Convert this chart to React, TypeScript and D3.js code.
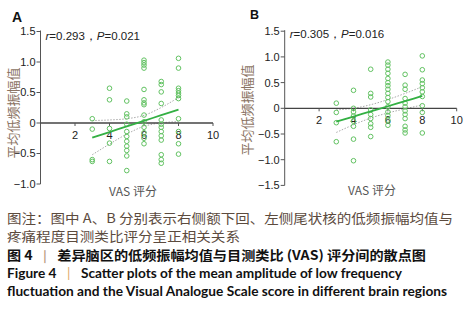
import React from "react";
import * as d3 from "d3";

// ---------- data ----------
const vasLevels = [3, 4, 5, 6, 7, 8];

// Panel A (right inferior frontal gyrus): ALFF values at each VAS level
const alffA: number[][] = [
  [0.07, -0.1, -0.6, -0.63],
  [0.57, 0.38, -0.09, -0.33, -0.63],
  [0.36, 0.15, 0.1, -0.02, -0.14, -0.22, -0.3, -0.38, -0.45, -0.54, -0.78],
  [1.03, 0.99, 0.95, 0.9, 0.55, 0.38, 0.33, 0.3, 0.13, 0.02, -0.07, -0.16, -0.25, -0.34],
  [0.68, 0.63, 0.51, 0.32, 0.05, -0.02, -0.07, -0.14, -0.21, -0.28, -0.52, -0.6, -0.66],
  [1.06, 0.9, 0.57, 0.53, 0.49, 0.45, 0.4, 0.07, -0.14, -0.34, -0.51],
];
const fitA = [-0.24, -0.148, -0.056, 0.036, 0.128, 0.22];
const upperA = [0.04, 0.05, 0.07, 0.126, 0.254, 0.418];
const lowerA = [-0.52, -0.346, -0.182, -0.054, 0.002, 0.022];

// Panel B (left caudate nucleus)
const alffB: number[][] = [
  [0.1, -0.08, -0.28, -0.65],
  [0.35, 0.0, -0.07, -0.15, -0.25, -0.35, -0.6, -1.02],
  [0.76, 0.29, 0.22, -0.03, -0.12, -0.2, -0.3, -0.37, -0.55],
  [0.9, 0.84, 0.76, 0.68, 0.58, 0.5, 0.44, 0.37, 0.29, 0.21, 0.13, 0.03, -0.07, -0.14, -0.23, -0.33],
  [0.66, 0.45, 0.37, 0.19, 0.1, 0.03, -0.05, -0.12, -0.2, -0.35, -0.42, -0.48],
  [1.02, 0.75, 0.55, 0.48, 0.4, 0.32, 0.23, 0.05, -0.08, -0.48],
];
const fitB = [-0.26, -0.16, -0.06, 0.04, 0.14, 0.24];
const upperB = [-0.03, 0.0, 0.07, 0.17, 0.29, 0.42];
const lowerB = [-0.47, -0.32, -0.19, -0.09, -0.01, 0.065];

const xTicks = [2, 4, 6, 8, 10];
const yTicksA = [1.5, 1.0, 0.5, 0, -0.5, -1.0];
const yTicksB = [1.5, 1.0, 0.5, 0, -0.5, -1.0, -1.5];

const statsA = { r: "0.293", p: "0.021" };
const statsB = { r: "0.305", p: "0.016" };

const xLabel = "VAS 评分";
const yLabel = "平均低频振幅值";

const caption1 = "图注：图中 A、B 分别表示右侧额下回、左侧尾状核的低频振幅均值与";
const caption2 = "疼痛程度目测类比评分呈正相关关系";
const caption3a = "图 4";
const caption3b = "差异脑区的低频振幅均值与目测类比 (VAS) 评分间的散点图";
const caption4a = "Figure 4";
const caption4b = "Scatter plots of the mean amplitude of low frequency";
const caption5 = "fluctuation and the Visual Analogue Scale score in different brain regions";

const fmtTick = (v: number) =>
  v === 0 ? "0" : (v < 0 ? "\u2212" : "") + Math.abs(v).toFixed(1);

const tickFont = "'Liberation Sans', Arial, sans-serif";
const cjkFont = "'Noto Sans CJK SC', sans-serif";
const latinFont = "Lato, 'Open Sans', sans-serif";
const NB = "\u00A0";

type PanelProps = {
  letter: string;
  letterX: number;
  letterY: number;
  letterSize: number;
  x0: number;
  x1: number;
  yTop: number;
  yBottom: number;
  yDomain: [number, number];
  yTicks: number[];
  values: number[][];
  fit: number[];
  upper: number[];
  lower: number[];
  stats: { r: string; p: string };
  statY: number;
  yLabelX: number;
  yLabelY: number;
  xLabelX: number;
  xLabelY: number;
};

function Panel(p: PanelProps) {
  const x = d3.scaleLinear().domain([0, 10]).range([p.x0, p.x1]);
  const y = d3.scaleLinear().domain(p.yDomain).range([p.yBottom, p.yTop]);
  const y0 = y(0);
  const line = d3
    .line<number>()
    .x((_, i) => x(vasLevels[i]))
    .y((d) => y(d))
    .curve(d3.curveMonotoneX);
  const pts: { vx: number; vy: number }[] = [];
  p.values.forEach((col, i) => col.forEach((v) => pts.push({ vx: vasLevels[i], vy: v })));
  return (
    <g>
      <text x={p.letterX} y={p.letterY} fontFamily={tickFont} fontWeight={700} fontSize={p.letterSize} fill="#111">
        {p.letter}
      </text>
      {/* y axis */}
      <line x1={x(0)} x2={x(0)} y1={p.yTop - 1} y2={p.yBottom} stroke="#555" strokeWidth={1} />
      {p.yTicks.map((t) => (
        <g key={t}>
          <line x1={x(0) - 4} x2={x(0)} y1={y(t)} y2={y(t)} stroke="#555" strokeWidth={1} />
          <text x={x(0) - 5} y={y(t)} dy="0.36em" textAnchor="end" fontFamily={tickFont} fontSize={11} fill="#222">
            {fmtTick(t)}
          </text>
        </g>
      ))}
      {/* confidence band */}
      <path d={line(p.upper) || ""} fill="none" stroke="#aaa" strokeWidth={1} strokeDasharray="1.5,1.5" />
      <path d={line(p.lower) || ""} fill="none" stroke="#aaa" strokeWidth={1} strokeDasharray="1.5,1.5" />
      {/* x axis at zero */}
      <line x1={x(0)} x2={x(10)} y1={y0} y2={y0} stroke="#444" strokeWidth={1.3} />
      {xTicks.map((t) => (
        <g key={t}>
          <line x1={x(t)} x2={x(t)} y1={y0} y2={y0 + 3} stroke="#555" strokeWidth={1} />
          <text x={x(t)} y={y0 + 16} textAnchor="middle" fontFamily={tickFont} fontSize={11} fill="#222">
            {t}
          </text>
        </g>
      ))}
      {/* points */}
      {pts.map((d, i) => (
        <circle key={i} cx={x(d.vx)} cy={y(d.vy)} r={2.3} fill="none" stroke="#62c262" strokeWidth={1} />
      ))}
      {/* fit line */}
      <path d={line(p.fit) || ""} fill="none" stroke="#33b043" strokeWidth={1.8} />
      {/* stats */}
      <text x={x(0) + 5} y={p.statY} fontFamily={tickFont} fontSize={11.5} fill="#222">
        <tspan fontStyle="italic">r</tspan>
        <tspan>{`=${p.stats.r}，`}</tspan>
        <tspan fontStyle="italic">P</tspan>
        <tspan>{`=${p.stats.p}`}</tspan>
      </text>
      {/* axis titles */}
      <text x={p.xLabelX} y={p.xLabelY} textAnchor="middle" fontFamily={cjkFont} fontSize={12} fill="#555">
        {xLabel}
      </text>
      <text
        transform={`translate(${p.yLabelX},${p.yLabelY}) rotate(-90)`}
        textAnchor="middle"
        dy="0.35em"
        fontFamily={cjkFont}
        fontSize={13}
        fill="#8a7262"
      >
        {yLabel}
      </text>
    </g>
  );
}

export default function App() {
  return (
    <svg
      width={467}
      height={310}
      style={{ position: "absolute", left: 0, top: 0, background: "#fff" }}
    >
      <rect width={467} height={310} fill="#fff" />
      <Panel
        letter="A"
        letterX={12}
        letterY={22}
        letterSize={14}
        x0={40.5}
        x1={213}
        yTop={31.5}
        yBottom={184}
        yDomain={[-1, 1.5]}
        yTicks={yTicksA}
        values={alffA}
        fit={fitA}
        upper={upperA}
        lower={lowerA}
        stats={statsA}
        statY={40}
        yLabelX={13}
        yLabelY={113}
        xLabelX={133}
        xLabelY={196}
      />
      <Panel
        letter="B"
        letterX={250}
        letterY={18.5}
        letterSize={12.5}
        x0={284.7}
        x1={456.7}
        yTop={31.2}
        yBottom={185.4}
        yDomain={[-1.5, 1.5]}
        yTicks={yTicksB}
        values={alffB}
        fit={fitB}
        upper={upperB}
        lower={lowerB}
        stats={statsB}
        statY={38}
        yLabelX={247}
        yLabelY={110}
        xLabelX={372}
        xLabelY={195}
      />
      {/* caption */}
      <text x={7} y={222.5} fontFamily={cjkFont} fontSize={13} fill="#5c4b3e" textLength={446} lengthAdjust="spacingAndGlyphs">
        {caption1}
      </text>
      <text x={7} y={241} fontFamily={cjkFont} fontSize={13} fill="#5c4b3e" textLength={233} lengthAdjust="spacingAndGlyphs">
        {caption2}
      </text>
      <text x={7} y={259.5} fontFamily={cjkFont} fontSize={13} fontWeight={700} fill="#111" textLength={419} lengthAdjust="spacingAndGlyphs">
        <tspan>{caption3a}</tspan>
        <tspan fontWeight={400} fill="#b89a80">{`${NB}${NB}\u2758${NB}${NB}`}</tspan>
        <tspan>{caption3b}</tspan>
      </text>
      <text x={7} y={278} fontFamily={latinFont} fontSize={13} fontWeight={700} fill="#111" textLength={395} lengthAdjust="spacingAndGlyphs">
        <tspan>{caption4a}</tspan>
        <tspan fontWeight={400} fill="#e0a868">{`${NB}${NB}${NB}|${NB}${NB}${NB}`}</tspan>
        <tspan>{caption4b}</tspan>
      </text>
      <text x={7} y={296} fontFamily={latinFont} fontSize={13} fontWeight={700} fill="#111" textLength={440} lengthAdjust="spacingAndGlyphs">
        {caption5}
      </text>
    </svg>
  );
}
